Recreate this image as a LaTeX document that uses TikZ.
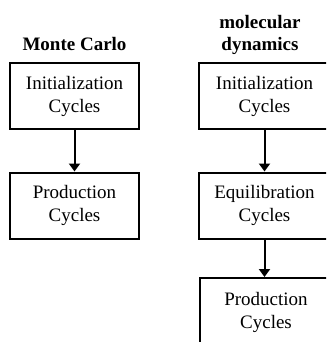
\documentclass[tikz,border=0pt]{standalone}
\usepackage{fontspec}
\setmainfont{Liberation Serif}
\usetikzlibrary{arrows.meta}
\begin{document}
\begin{tikzpicture}[x=1pt,y=-1pt,
  stagebox/.style={draw=black,line width=2pt,minimum height=66pt,align=center,
    inner sep=0pt,font=\fontsize{19}{23}\selectfont},
  heading/.style={anchor=base,inner sep=0pt,font=\fontsize{19}{22}\selectfont\bfseries},
  flow/.style={line width=2pt,-{Triangle[length=8pt,width=11pt]}}]
\useasboundingbox (0,0) rectangle (326,342);
\clip (0,0) rectangle (326,342);
\node[heading] (mc) at (74.5,51) {Monte Carlo};
\node[heading] (md1) at (260,29) {molecular};
\node[heading] (md2) at (260,51) {dynamics};
\node[stagebox,minimum width=129pt] (a) at (74.5,96) {Initialization\\Cycles};
\node[stagebox,minimum width=129pt] (b) at (74.5,205.5) {Production\\Cycles};
\node[stagebox,minimum width=132pt] (c) at (264.5,96) {Initialization\\Cycles};
\node[stagebox,minimum width=132pt] (d) at (264.5,205.5) {Equilibration\\Cycles};
\node[stagebox,minimum width=132pt,minimum height=68pt] (e) at (266,312) {Production\\Cycles};
\draw[flow] (a.south) -- (b.north);
\draw[flow] (c.south) -- (d.north);
\draw[flow] (d.south) -- (d.south |- e.north);
\end{tikzpicture}
\end{document}
